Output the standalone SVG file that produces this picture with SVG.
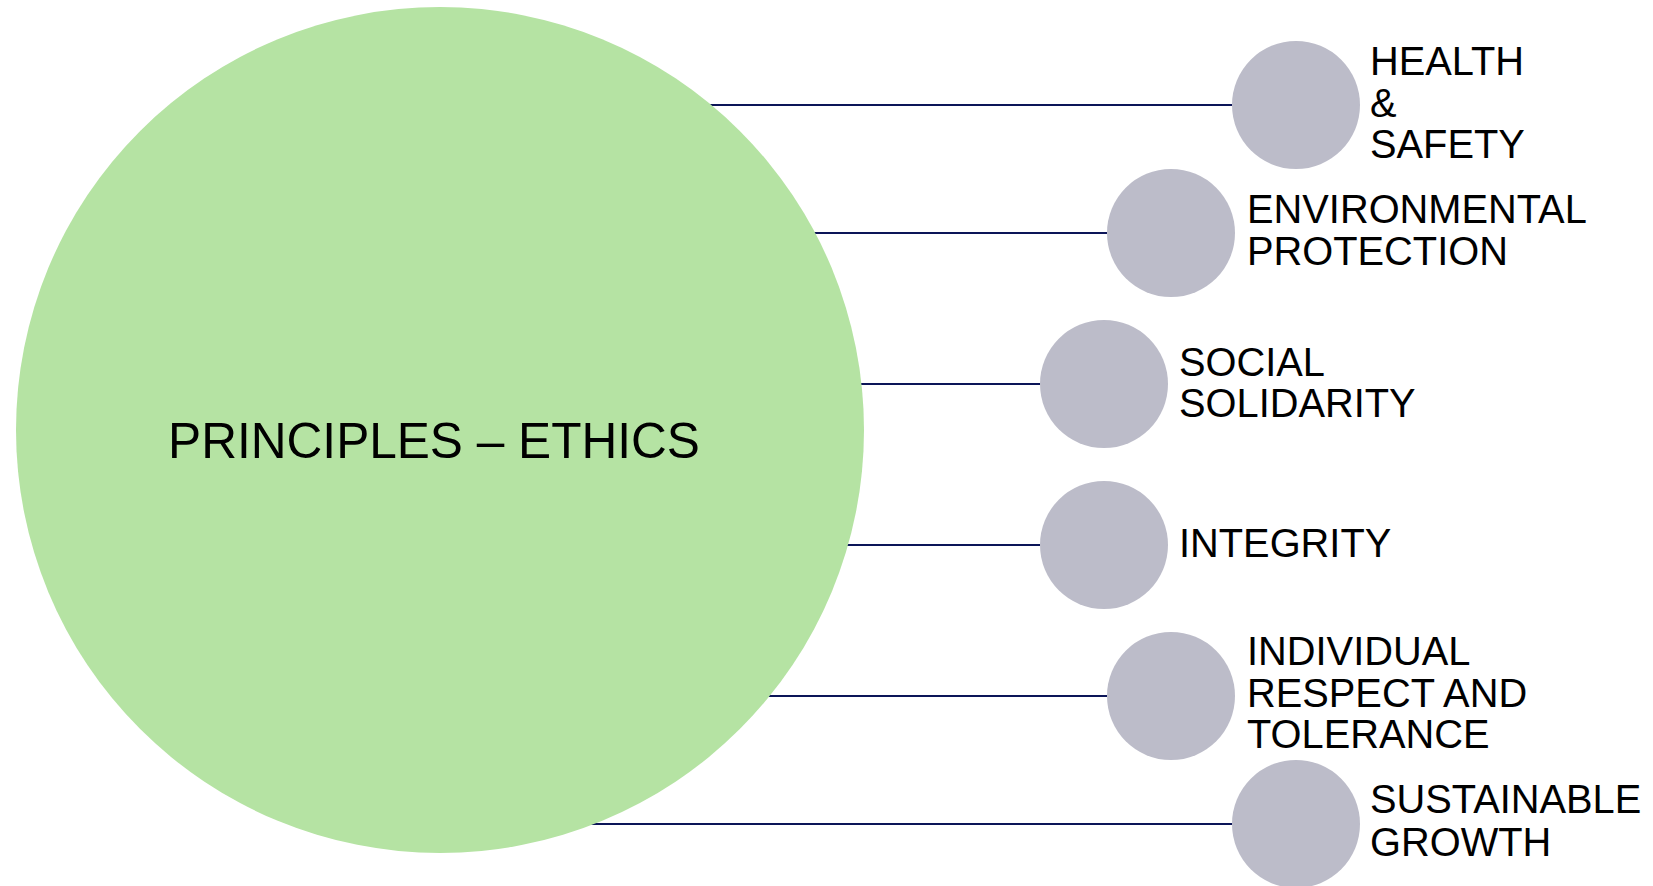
<svg xmlns="http://www.w3.org/2000/svg" width="1653" height="886" viewBox="0 0 1653 886">
<style>
.conn{stroke:#0c1558;stroke-width:2;fill:none}
.sat{fill:#bcbcc9}
.lbl{font-family:"Liberation Sans",Arial,sans-serif;font-size:39.8px;fill:#000}
.main{font-family:"Liberation Sans",Arial,sans-serif;font-size:49.6px;fill:#000;text-anchor:middle}
</style>
<rect width="1653" height="886" fill="#ffffff"/>
<g id="connectors">
<line class="conn" x1="600" y1="105" x2="1232" y2="105"/>
<line class="conn" x1="600" y1="233" x2="1107" y2="233"/>
<line class="conn" x1="600" y1="384" x2="1040" y2="384"/>
<line class="conn" x1="600" y1="545" x2="1040" y2="545"/>
<line class="conn" x1="600" y1="696" x2="1107" y2="696"/>
<line class="conn" x1="500" y1="824" x2="1232" y2="824"/>
</g>
<g id="principles">
<ellipse cx="440" cy="430" rx="424" ry="423" fill="#b5e3a3"/>
<text class="main" x="434" y="458">PRINCIPLES – ETHICS</text>
</g>
<g id="health">
<circle class="sat" cx="1296" cy="105" r="64"/>
<text class="lbl" x="1370" y="75">HEALTH</text>
<text class="lbl" x="1370" y="117">&amp;</text>
<text class="lbl" x="1370" y="158">SAFETY</text>
</g>
<g id="environmental">
<circle class="sat" cx="1171" cy="233" r="64"/>
<text class="lbl" x="1247" y="223">ENVIRONMENTAL</text>
<text class="lbl" x="1247" y="265">PROTECTION</text>
</g>
<g id="social">
<circle class="sat" cx="1104" cy="384" r="64"/>
<text class="lbl" x="1179" y="376">SOCIAL</text>
<text class="lbl" x="1179" y="417">SOLIDARITY</text>
</g>
<g id="integrity">
<circle class="sat" cx="1104" cy="545" r="64"/>
<text class="lbl" x="1179" y="557">INTEGRITY</text>
</g>
<g id="individual">
<circle class="sat" cx="1171" cy="696" r="64"/>
<text class="lbl" x="1247" y="665">INDIVIDUAL</text>
<text class="lbl" x="1247" y="707">RESPECT AND</text>
<text class="lbl" x="1247" y="748">TOLERANCE</text>
</g>
<g id="sustainable">
<circle class="sat" cx="1296" cy="824" r="64"/>
<text class="lbl" x="1370" y="813">SUSTAINABLE</text>
<text class="lbl" x="1370" y="856">GROWTH</text>
</g>
</svg>
